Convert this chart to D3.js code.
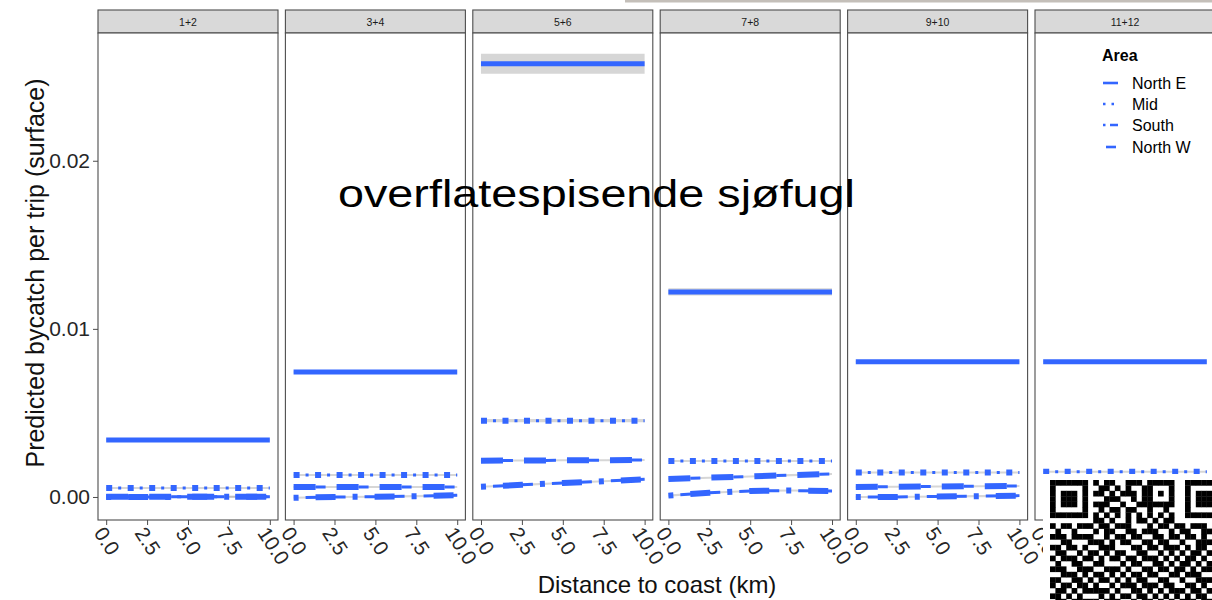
<!DOCTYPE html>
<html>
<head>
<meta charset="utf-8">
<script src="https://cdn.jsdelivr.net/npm/d3@7"></script>
<style>
  html, body { margin: 0; padding: 0; background: #ffffff; }
  svg { display: block; font-family: "Liberation Sans", Arial, Helvetica, sans-serif; }
</style>
</head>
<body>
<svg id="chart" width="1212" height="600"></svg>
<script>
// Facets (month pairs) and distance grid
const panels = ["1+2", "3+4", "5+6", "7+8", "9+10", "11+12"];
const distance = [0, 2.5, 5, 7.5, 10];
const areas = ["North E", "Mid", "South", "North W"];
const yTicks = [0.00, 0.01, 0.02];
const xTicks = [0, 2.5, 5, 7.5, 10];

// Predicted bycatch per trip, one row per facet, one value per distance
const northE = [
  [0.00339, 0.00339, 0.00339, 0.00339, 0.00339],
  [0.00744, 0.00744, 0.00744, 0.00744, 0.00744],
  [0.02577, 0.02577, 0.02577, 0.02577, 0.02577],
  [0.01220, 0.01220, 0.01220, 0.01220, 0.01220],
  [0.00804, 0.00804, 0.00804, 0.00804, 0.00804],
  [0.00804, 0.00804, 0.00804, 0.00804, 0.00804]
];
const mid = [
  [0.00054, 0.00054, 0.00054, 0.00054, 0.00054],
  [0.00131, 0.00131, 0.00131, 0.00131, 0.00131],
  [0.00454, 0.00454, 0.00454, 0.00454, 0.00454],
  [0.00214, 0.00214, 0.00214, 0.00214, 0.00214],
  [0.00145, 0.00145, 0.00145, 0.00145, 0.00145],
  [0.00150, 0.00150, 0.00150, 0.00150, 0.00150]
];
const south = [
  [0.00000, 0.00000, 0.00001, 0.00001, 0.00002],
  [-0.00005, 0.00000, 0.00002, 0.00005, 0.00010],
  [0.00061, 0.00072, 0.00083, 0.00094, 0.00105],
  [0.00008, 0.00025, 0.00036, 0.00038, 0.00036],
  [0.00000, 0.00000, 0.00003, 0.00005, 0.00008],
  [0.00000, 0.00000, 0.00001, 0.00002, 0.00003]
];
const northW = [
  [0.00002, 0.00002, 0.00002, 0.00002, 0.00002],
  [0.00060, 0.00060, 0.00060, 0.00060, 0.00060],
  [0.00216, 0.00217, 0.00218, 0.00219, 0.00220],
  [0.00107, 0.00115, 0.00122, 0.00130, 0.00137],
  [0.00060, 0.00061, 0.00062, 0.00064, 0.00065],
  [0.00060, 0.00060, 0.00060, 0.00060, 0.00060]
];
// Half-width of the confidence band per facet
const northECI = [0.00003, 0.00003, 0.00060, 0.00022, 0.00003, 0.00003];
const midCI    = [0.00006, 0.00006, 0.00010, 0.00006, 0.00006, 0.00006];
const southCI  = [0.00006, 0.00006, 0.00006, 0.00006, 0.00006, 0.00006];
const northWCI = [0.00006, 0.00006, 0.00006, 0.00006, 0.00006, 0.00006];

const seriesValues = { "North E": northE, "Mid": mid, "South": south, "North W": northW };
const seriesCI = { "North E": northECI, "Mid": midCI, "South": southCI, "North W": northWCI };

const lineColor = "#3366FF";
const bandColor = "#999999";
const frameColor = "#4d4d4d";

// Stroke layers that build each line type
const lineLayers = {
  "North E": [{ w: 5, dash: null, off: 0 }],
  "Mid":     [{ w: 6, dash: "6,15.5", off: 0 }, { w: 3, dash: "3,18.5", off: -12 }],
  "South":   [{ w: 6, dash: "5,17,20,17", off: 0 }, { w: 3, dash: "40,19", off: -12 }],
  "North W": [{ w: 6, dash: "22,21", off: 0 }, { w: 3, dash: "10,33", off: -22 }]
};

const svg = d3.select("#chart");

// Facet geometry
const panelLeft0 = 98, panelStep = 187.4, panelW = 180;
const stripTop = 10, panelTop = 33, panelBottom = 520;

const x = d3.scaleLinear().domain([-0.5, 10.5]).range([0, panelW]);
const y = d3.scaleLinear().domain([-0.00137, 0.0276]).range([panelBottom, panelTop]);

// Thin picture strip along the top edge
svg.append("rect").attr("x", 625).attr("y", 0).attr("width", 587).attr("height", 2.5)
  .attr("fill", "#c4bfb9");

panels.forEach((name, i) => {
  const g = svg.append("g").attr("transform", `translate(${panelLeft0 + i * panelStep},0)`);

  // strip
  g.append("rect").attr("x", 0).attr("y", stripTop).attr("width", panelW)
    .attr("height", panelTop - stripTop).attr("fill", "#d9d9d9")
    .attr("stroke", frameColor).attr("stroke-width", 1.1);
  g.append("text").attr("x", panelW / 2).attr("y", (stripTop + panelTop) / 2)
    .attr("text-anchor", "middle").attr("dominant-baseline", "central")
    .attr("font-size", 10.5).attr("fill", "#1a1a1a").text(name);

  // panel background
  g.append("rect").attr("x", 0).attr("y", panelTop).attr("width", panelW)
    .attr("height", panelBottom - panelTop).attr("fill", "#ffffff");

  // confidence bands
  areas.forEach(a => {
    const vals = seriesValues[a][i];
    const ci = seriesCI[a][i];
    const pts = distance.map((d, k) => ({ d, v: vals[k] }));
    const area = d3.area()
      .x(p => x(p.d))
      .y0(p => y(p.v - ci))
      .y1(p => y(p.v + ci));
    g.append("path").datum(pts).attr("d", area)
      .attr("fill", bandColor).attr("fill-opacity", 0.4);
  });

  // fitted lines
  ["North W", "South", "Mid", "North E"].forEach(a => {
    const vals = seriesValues[a][i];
    const pts = distance.map((d, k) => ({ d, v: vals[k] }));
    const line = d3.line().x(p => x(p.d)).y(p => y(p.v));
    lineLayers[a].forEach(l => {
      const p = g.append("path").datum(pts).attr("d", line)
        .attr("fill", "none").attr("stroke", lineColor)
        .attr("stroke-width", l.w).attr("stroke-linecap", "butt");
      if (l.dash) p.attr("stroke-dasharray", l.dash).attr("stroke-dashoffset", l.off);
    });
  });

  // panel frame
  g.append("rect").attr("x", 0).attr("y", panelTop).attr("width", panelW)
    .attr("height", panelBottom - panelTop).attr("fill", "none")
    .attr("stroke", frameColor).attr("stroke-width", 1.1);

  // x axis (the last facet's labels past 0.0 sit under the QR code, so only 0.0 is written there)
  const shownTicks = i === panels.length - 1 ? [0] : xTicks;
  const xa = g.append("g").attr("transform", `translate(0,${panelBottom})`)
    .call(d3.axisBottom(x).tickValues(xTicks).tickSize(5)
      .tickFormat(v => shownTicks.includes(v) ? d3.format(".1f")(v) : ""));
  xa.select(".domain").remove();
  xa.selectAll(".tick line").attr("stroke", frameColor);
  xa.selectAll(".tick text")
    .attr("font-size", 20.5).attr("fill", "#262626")
    .attr("text-anchor", "start")
    .attr("dy", null).attr("y", null)
    .attr("transform", "translate(-9,10) rotate(57)")
    .attr("dominant-baseline", "middle");
});

// y axis on the first facet
const ya = svg.append("g").attr("transform", `translate(${panelLeft0},0)`)
  .call(d3.axisLeft(y).tickValues(yTicks).tickSize(5).tickFormat(d3.format(".2f")));
ya.select(".domain").remove();
ya.selectAll(".tick line").attr("stroke", frameColor);
ya.selectAll(".tick text").attr("font-size", 21).attr("fill", "#262626").attr("x", -8);

// axis titles
svg.append("text")
  .attr("transform", "translate(44,273) rotate(-90)")
  .attr("text-anchor", "middle").attr("font-size", 25).attr("fill", "#111")
  .text("Predicted bycatch per trip (surface)");
svg.append("text")
  .attr("x", 657).attr("y", 593).attr("text-anchor", "middle")
  .attr("font-size", 24).attr("fill", "#111")
  .text("Distance to coast (km)");

// legend
const leg = svg.append("g").attr("transform", "translate(1102,0)");
leg.append("text").attr("x", 0).attr("y", 55).attr("dominant-baseline", "central")
  .attr("font-size", 16).attr("font-weight", "bold").attr("fill", "#000").text("Area");
const legendKeys = {
  "North E": { dash: null, x0: 1, x1: 16 },
  "Mid":     { dash: "2.5,6", x0: 1, x1: 16 },
  "South":   { dash: "2.5,4.5,8,20", x0: 1, x1: 16 },
  "North W": { dash: null, x0: 4, x1: 14 }
};
const legendY = [83, 104, 125, 147];
areas.forEach((a, k) => {
  const key = legendKeys[a];
  const l = leg.append("line").attr("x1", key.x0).attr("x2", key.x1)
    .attr("y1", legendY[k]).attr("y2", legendY[k])
    .attr("stroke", lineColor).attr("stroke-width", 2.6);
  if (key.dash) l.attr("stroke-dasharray", key.dash);
  leg.append("text").attr("x", 30).attr("y", legendY[k]).attr("dominant-baseline", "central")
    .attr("font-size", 16).attr("fill", "#000").text(a);
});

// caption laid over the plot
svg.append("text").attr("x", 338).attr("y", 207)
  .attr("font-size", 38).attr("fill", "#000")
  .attr("textLength", 517).attr("lengthAdjust", "spacingAndGlyphs")
  .text("overflatespisende sjøfugl");

// QR code in the lower right corner
const qrRows = [
  "111111101011001110111110011111",
  "100000100110101001100010010000",
  "101110101101011101101010010111",
  "101110100011100101100010010111",
  "101110101110010011111110010111",
  "100000100101101100100100010000",
  "111111101010101010101010011111",
  "000000001101001011010110000000",
  "101101110110111000101101101110",
  "010010001011001101110010110011",
  "111011110010110110011011011010",
  "001100011101011001101100100111",
  "110110100111000110110111010110",
  "011001011010110011001010101101",
  "101110110101101101110101011010",
  "010011001100010110011010110101",
  "111001110011101001101101101011",
  "001110101101010110110011011100",
  "110011010110101011001100100111",
  "101101101001011101110110011010",
  "011010111110100110101011101101",
  "110101000101011011010101010110",
  "011011111011100101101010111011"
];
const qrX = 1050, qrY = 480, mod = 5.4;
svg.append("rect").attr("x", 1043).attr("y", 474).attr("width", 169).attr("height", 126)
  .attr("fill", "#ffffff");
const qr = svg.append("g");
qrRows.forEach((row, r) => {
  row.split("").forEach((c, col) => {
    if (c === "1") {
      qr.append("rect").attr("x", qrX + col * mod).attr("y", qrY + r * mod)
        .attr("width", mod + 0.3).attr("height", mod + 0.3).attr("fill", "#000");
    }
  });
});
</script>
</body>
</html>
